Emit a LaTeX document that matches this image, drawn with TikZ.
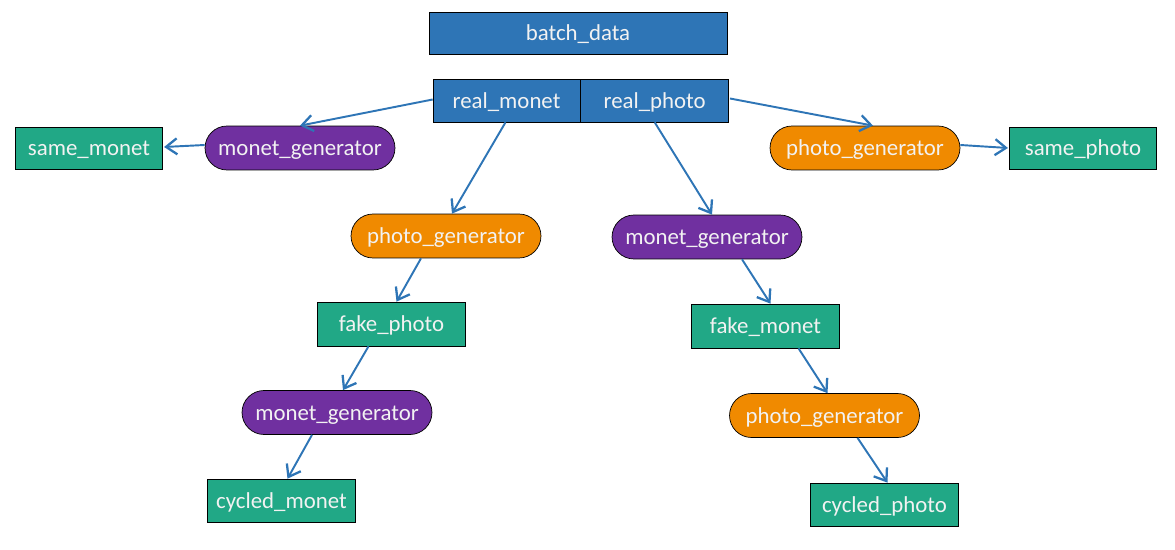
\documentclass[tikz,border=0pt]{standalone}
\usepackage{fontspec}
\setmainfont{Carlito}
\usepackage{xcolor}
\usepackage{tikz}
\usetikzlibrary{shapes.misc, arrows.meta, positioning, calc}
\definecolor{boxblue}{RGB}{46, 117, 182}
\definecolor{boxgreen}{RGB}{33, 168, 134}
\definecolor{genpurple}{RGB}{112, 48, 160}
\definecolor{genorange}{RGB}{240, 138, 0}
\definecolor{labelwhite}{RGB}{242, 242, 242}

\begin{document}
\begin{tikzpicture}[
    x=0.02cm, y=-0.02cm,
    databox/.style={draw=black, fill=#1, inner sep=0pt, minimum width=2.95cm,
                    minimum height=0.86cm, text=labelwhite, text height=10pt, text depth=1pt,
                    font=\fontsize{13}{15}\selectfont},
    gen/.style={rounded rectangle, draw=black, fill=#1, inner sep=0pt, minimum width=3.8cm,
                minimum height=0.88cm, text=labelwhite, text height=10pt, text depth=1pt,
                font=\fontsize{13}{15}\selectfont},
    flow/.style={-{Straight Barb[length=2.2mm, width=3.2mm, line width=1.3pt]}, draw=boxblue, line width=1.1pt}
]
    \useasboundingbox (0,0) rectangle (1175,550);

    % inputs
    \node[databox=boxblue, minimum width=5.96cm, minimum height=0.84cm] (batch) at (578,33) {batch\_data};
    \node[databox=boxblue, minimum width=2.94cm] (realmonet) at (506.5,100.5) {real\_monet};
    \node[databox=boxblue, right=0pt of realmonet, minimum width=2.96cm] (realphoto) {real\_photo};

    % identity branch
    \node[gen=genpurple] (mgidentity) at (300,148) {monet\_generator};
    \node[databox=boxgreen, minimum height=0.84cm] (samemonet) at (89,148) {same\_monet};
    \node[gen=genorange] (pgidentity) at (865,148) {photo\_generator};
    \node[databox=boxgreen, minimum height=0.84cm] (samephoto) at (1083,148) {same\_photo};

    % monet cycle
    \node[gen=genorange] (pgforward) at (446,236) {photo\_generator};
    \node[databox=boxgreen, minimum height=0.88cm] (fakephoto) at (391.5,324) {fake\_photo};
    \node[gen=genpurple] (mgbackward) at (337,412.5) {monet\_generator};
    \node[databox=boxgreen] (cycledmonet) at (281.5,500.5) {cycled\_monet};

    % photo cycle
    \node[gen=genpurple] (mgforward) at (707,237) {monet\_generator};
    \node[databox=boxgreen, minimum height=0.88cm] (fakemonet) at (765.5,326) {fake\_monet};
    \node[gen=genorange] (pgbackward) at (824.5,415.5) {photo\_generator};
    \node[databox=boxgreen] (cycledphoto) at (884.5,504.5) {cycled\_photo};

    \draw[flow] ($(realmonet.west)+(0,-1)$) -- (mgidentity.north);
    \draw[flow] ($(mgidentity.west)+(0,-3)$) -- ($(samemonet.east)+(1,-1)$);
    \draw[flow] ($(realphoto.east)+(1,-2)$) -- ($(pgidentity.north)+(8,0)$);
    \draw[flow] ($(pgidentity.east)+(0,-3)$) -- ($(samephoto.west)+(-1,0)$);

    \draw[flow] ($(realmonet.south)+(-1,0)$) -- ($(pgforward.north)+(6,0)$);
    \draw[flow] ($(pgforward.south)+(-25,0)$) -- ($(fakephoto.north)+(5,0)$);
    \draw[flow] ($(fakephoto.south)+(-23,0)$) -- ($(mgbackward.north)+(6,0)$);
    \draw[flow] ($(mgbackward.south)+(-25,0)$) -- ($(cycledmonet.north)+(6,0)$);

    \draw[flow] (realphoto.south) -- ($(mgforward.north)+(5,0)$);
    \draw[flow] ($(mgforward.south)+(35,0)$) -- ($(fakemonet.north)+(5,0)$);
    \draw[flow] ($(fakemonet.south)+(33,0)$) -- ($(pgbackward.north)+(3,0)$);
    \draw[flow] ($(pgbackward.south)+(33,0)$) -- ($(cycledphoto.north)+(3,0)$);
\end{tikzpicture}
\end{document}
